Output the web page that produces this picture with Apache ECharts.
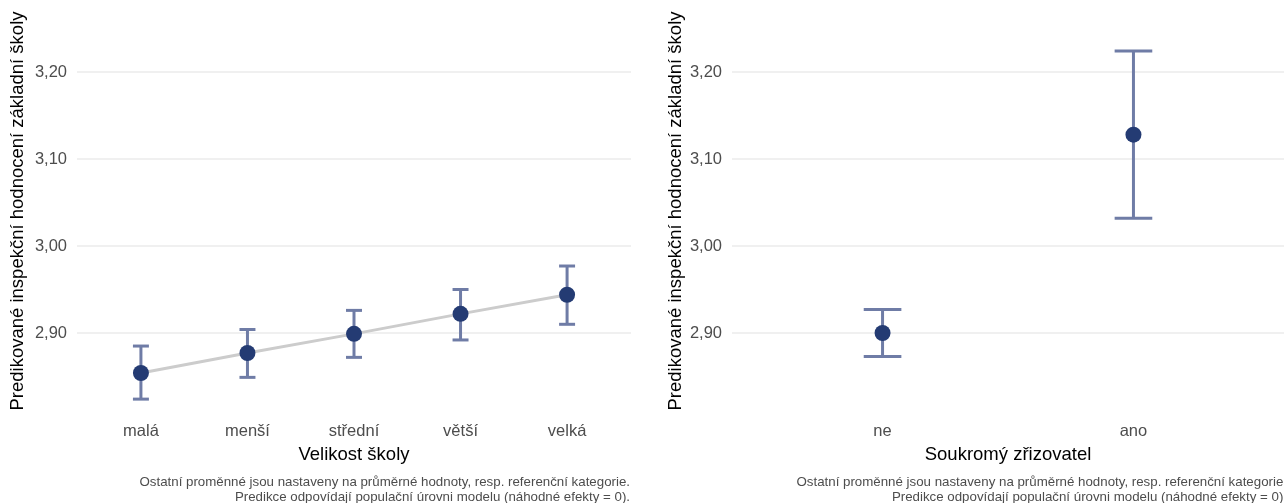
<!DOCTYPE html>
<html>
<head>
<meta charset="utf-8">
<script src="https://cdn.jsdelivr.net/npm/echarts@6/dist/echarts.min.js"></script>
<style>
html,body{margin:0;padding:0;background:#fff;}
#chart{width:1284px;height:503px;}
</style>
</head>
<body>
<div id="chart"></div>
<script>
// ---- data ----
const sizeCategories = ['malá', 'menší', 'střední', 'větší', 'velká'];
const sizeMean  = [2.854, 2.877, 2.899, 2.922, 2.944];
const sizeLower = [2.824, 2.849, 2.872, 2.892, 2.910];
const sizeUpper = [2.885, 2.904, 2.926, 2.950, 2.977];

const privCategories = ['ne', 'ano'];
const privMean  = [2.900, 3.128];
const privLower = [2.873, 3.032];
const privUpper = [2.927, 3.224];

const yTickValues = [2.90, 3.00, 3.10, 3.20];
const yTickLabels = ['2,90', '3,00', '3,10', '3,20'];

const yTitle = 'Predikované inspekční hodnocení základní školy';
const xTitleLeft = 'Velikost školy';
const xTitleRight = 'Soukromý zřizovatel';
const captionLines = [
  'Ostatní proměnné jsou nastaveny na průměrné hodnoty, resp. referenční kategorie.',
  'Predikce odpovídají populační úrovni modelu (náhodné efekty = 0).'
];

// ---- styles ----
const FONT = '"Liberation Sans", Arial, sans-serif';
const POINT = '#243b73';
const BAR = '#6f7ca6';
const GRIDC = '#ebebeb';
const TXT = '#4d4d4d';

function yAxisCfg(gi){
  return {
    type: 'value', gridIndex: gi, min: 2.8, max: 3.25, interval: 0.1,
    axisLine: {show:false}, axisTick: {show:false},
    axisLabel: {
      color: TXT, fontSize: 16.5, fontFamily: FONT, margin: 10,
      formatter: function(v){
        for (let i=0;i<yTickValues.length;i++){
          if (Math.abs(v - yTickValues[i]) < 1e-6) return yTickLabels[i];
        }
        return '';
      }
    },
    splitLine: {show:true, showMinLine:false, showMaxLine:false, lineStyle:{color:GRIDC, width:1.5}}
  };
}
function xAxisCfg(gi, cats, title){
  const idx = cats.map((c,i)=>i+1);
  return {
    type: 'value', gridIndex: gi, min: 0.4, max: cats.length + 0.6,
    axisLine: {show:false}, axisTick: {show:false}, splitLine: {show:false},
    axisLabel: {
      customValues: idx, color: TXT, fontSize: 16.5, fontFamily: FONT, margin: 3,
      formatter: function(v){ const k = Math.round(v); return (Math.abs(v-k)<1e-6 && k>=1 && k<=cats.length) ? cats[k-1] : ''; }
    },
    name: title, nameLocation: 'middle', nameGap: 25,
    nameTextStyle: {color:'#000', fontSize:18.5, fontFamily: FONT}
  };
}
function errData(lower, upper){
  return lower.map((l,i)=>[i+1, l, upper[i]]);
}
function errSeries(xi, yi, lower, upper){
  return {
    type: 'custom', xAxisIndex: xi, yAxisIndex: yi, z: 3,
    data: errData(lower, upper),
    renderItem: function(params, api){
      const x = api.value(0), lo = api.value(1), hi = api.value(2);
      const half = 0.075;
      const pLo = api.coord([x, lo]), pHi = api.coord([x, hi]);
      const cL1 = api.coord([x-half, lo]), cR1 = api.coord([x+half, lo]);
      const cL2 = api.coord([x-half, hi]), cR2 = api.coord([x+half, hi]);
      const st = {stroke: BAR, lineWidth: 3, fill: null};
      return {type:'group', children:[
        {type:'line', shape:{x1:pLo[0], y1:pLo[1], x2:pHi[0], y2:pHi[1]}, style: st},
        {type:'line', shape:{x1:cL1[0], y1:cL1[1], x2:cR1[0], y2:cR1[1]}, style: st},
        {type:'line', shape:{x1:cL2[0], y1:cL2[1], x2:cR2[0], y2:cR2[1]}, style: st}
      ]};
    }
  };
}
function pointSeries(xi, yi, mean){
  return {
    type: 'scatter', xAxisIndex: xi, yAxisIndex: yi, z: 4,
    symbol: 'circle', symbolSize: 16,
    itemStyle: {color: POINT, opacity: 1},
    data: mean.map((m,i)=>[i+1, m])
  };
}

const chart = echarts.init(document.getElementById('chart'), null, {renderer:'canvas'});
const option = {
  animation: false,
  backgroundColor: '#fff',
  textStyle: {fontFamily: FONT},
  grid: [
    {left: 77, width: 554, top: 28.5, height: 391.5, containLabel: false},
    {left: 732, width: 552, top: 28.5, height: 391.5, containLabel: false}
  ],
  xAxis: [xAxisCfg(0, sizeCategories, xTitleLeft), xAxisCfg(1, privCategories, xTitleRight)],
  yAxis: [yAxisCfg(0), yAxisCfg(1)],
  series: [
    {
      type: 'line', xAxisIndex: 0, yAxisIndex: 0, z: 2,
      data: sizeMean.map((m,i)=>[i+1, m]),
      symbol: 'none', lineStyle: {color:'#cccccc', width: 3}
    },
    errSeries(0, 0, sizeLower, sizeUpper),
    pointSeries(0, 0, sizeMean),
    errSeries(1, 1, privLower, privUpper),
    pointSeries(1, 1, privMean)
  ],
  graphic: [
    {type:'text', x: 18, y: 211, rotation: Math.PI/2,
      style:{text: yTitle, fill:'#000', font: '18.5px ' + FONT, align:'center', verticalAlign:'middle'}},
    {type:'text', x: 676, y: 211, rotation: Math.PI/2,
      style:{text: yTitle, fill:'#000', font: '18.5px ' + FONT, align:'center', verticalAlign:'middle'}},
    {type:'text', x: 630, y: 489.5,
      style:{text: captionLines.join('\n'), fill: TXT, font: '13.3px ' + FONT, align:'right', verticalAlign:'middle', lineHeight: 15}},
    {type:'text', x: 1287, y: 489.5,
      style:{text: captionLines.join('\n'), fill: TXT, font: '13.3px ' + FONT, align:'right', verticalAlign:'middle', lineHeight: 15}}
  ]
};
chart.setOption(option);
</script>
</body>
</html>
